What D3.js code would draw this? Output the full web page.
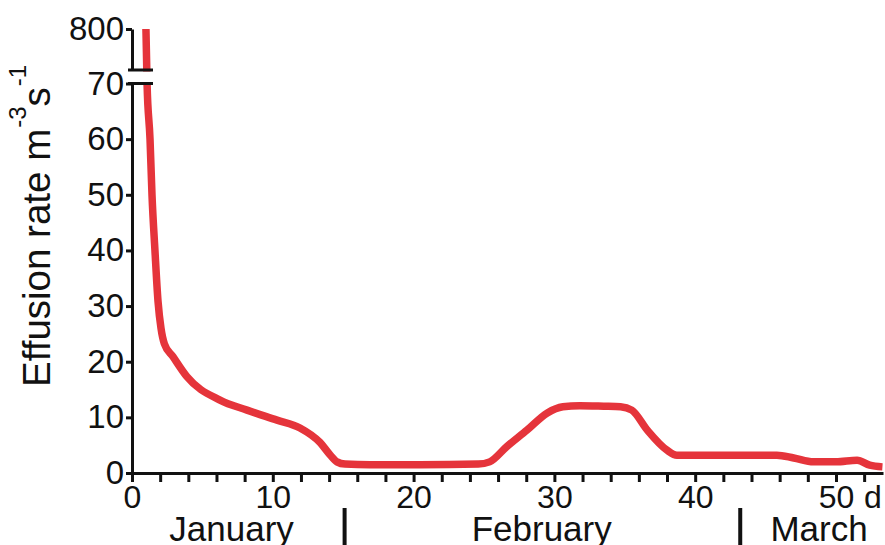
<!DOCTYPE html>
<html>
<head>
<meta charset="utf-8">
<script src="https://cdn.jsdelivr.net/npm/d3@7"></script>
<style>
  body { margin: 0; background: #fff; }
  svg { display: block; font-family: "Liberation Sans", Arial, sans-serif; }
</style>
</head>
<body>
<svg id="chart" width="885" height="545"></svg>
<script>
// Effusion rate over time (days since onset)
const days = [0.99, 1.07, 1.28, 1.42, 1.63, 1.85, 2.06, 2.3, 2.91, 3.9, 6.25, 8.17, 10.3, 11.93, 13.35, 14.06, 14.56, 15.13, 16.9, 20.45, 24.6, 25.4, 26.6, 28.05, 29.5, 30.6, 31.8, 33.5, 34.7, 35.5, 36.6, 38.0, 38.7, 40.3, 45.8, 47.0, 48.4, 50.0, 51.5, 52.4, 53.3];
const rates = [800, 70, 60, 50, 40, 30.8, 26.0, 23.2, 20.9, 17.3, 13.1, 11.3, 9.5, 8.1, 5.5, 3.3, 2.0, 1.6, 1.5, 1.5, 1.6, 2.0, 4.7, 7.7, 10.8, 11.9, 12.1, 12.0, 11.9, 11.3, 7.7, 4.1, 3.2, 3.2, 3.2, 2.7, 2.0, 2.0, 2.3, 1.4, 1.1];

const xTicks = d3.range(0, 53, 2);
const xLabelled = [0, 10, 20, 30, 40, 50];
const yTicksLow = [0, 10, 20, 30, 40, 50, 60, 70];
const yTicksHigh = [800];
const months = ["January", "February", "March"];
const monthCentres = [7.07, 29.1, 48.8];
const monthBreaks = [15.1, 43.2];

const svg = d3.select("#chart");
const red = "#e5343b";
const ink = "#111";

const x = d3.scaleLinear().domain([0, 53.34]).range([132, 883]);
const yLow = d3.scaleLinear().domain([0, 70]).range([473, 83.5]);
const yHigh = d3.scaleLinear().domain([700, 800]).range([70, 29]);
const y = v => (v <= 70 ? yLow(v) : yHigh(v));

const styleAxis = size => g => {
  g.selectAll("path, line").attr("stroke", ink).attr("stroke-width", 3);
  g.selectAll("text").attr("fill", ink).attr("font-size", size)
    .attr("font-family", "'Liberation Sans', Arial, sans-serif");
};

// x axis
svg.append("g")
  .attr("transform", `translate(0,${yLow(0)})`)
  .call(d3.axisBottom(x).tickValues(xTicks).tickSize(9).tickSizeOuter(0).tickPadding(3)
    .tickFormat(d => xLabelled.includes(d) ? d : ""))
  .call(styleAxis(32));

svg.append("text")
  .attr("x", 864).attr("y", 508)
  .attr("font-size", 32).attr("fill", ink)
  .text("d");

// lower y axis
svg.append("g")
  .attr("transform", `translate(${x(0)},0)`)
  .call(d3.axisLeft(yLow).tickValues(yTicksLow).tickSize(6).tickSizeOuter(0).tickPadding(2))
  .call(styleAxis(33));

// upper y axis (above the break)
svg.append("g")
  .attr("transform", `translate(${x(0)},0)`)
  .call(d3.axisLeft(yHigh).tickValues(yTicksHigh).tickSize(6).tickSizeOuter(0).tickPadding(2))
  .call(styleAxis(33));

// rate curve
const line = d3.line()
  .x((d, i) => x(days[i]))
  .y(d => y(d))
  .curve(d3.curveMonotoneX);

svg.append("path")
  .datum(rates)
  .attr("d", line)
  .attr("fill", "none")
  .attr("stroke", red)
  .attr("stroke-width", 7.5)
  .attr("stroke-linejoin", "round");

// axis break
const breakTop = yHigh(700), breakBottom = yLow(70);
svg.append("rect")
  .attr("x", x(0) - 8).attr("width", 30)
  .attr("y", breakTop + 1.5).attr("height", breakBottom - breakTop - 3)
  .attr("fill", "#fff");
[breakTop, breakBottom].forEach(v => {
  svg.append("line")
    .attr("x1", x(0) - 4).attr("x2", x(0) + 21)
    .attr("y1", v).attr("y2", v)
    .attr("stroke", ink).attr("stroke-width", 3);
});

// y axis title
const title = svg.append("text")
  .attr("transform", "translate(50,387) rotate(-90)")
  .attr("font-size", 38.5).attr("fill", ink);
title.append("tspan").text("Effusion rate m");
title.append("tspan").attr("font-size", 24).attr("dy", -24).attr("dx", 1).text("-3");
title.append("tspan").attr("font-size", 38.5).attr("dy", 24).text("s");
title.append("tspan").attr("font-size", 24).attr("dy", -24).attr("dx", 1).text("-1");

// month labels and separators
svg.selectAll(".month")
  .data(months)
  .join("text")
  .attr("class", "month")
  .attr("x", (d, i) => x(monthCentres[i]))
  .attr("y", 541)
  .attr("text-anchor", "middle")
  .attr("font-size", 35).attr("fill", ink)
  .text(d => d);

svg.selectAll(".sep")
  .data(monthBreaks)
  .join("line")
  .attr("class", "sep")
  .attr("x1", d => x(d)).attr("x2", d => x(d))
  .attr("y1", 508).attr("y2", 545)
  .attr("stroke", ink).attr("stroke-width", 4);
</script>
</body>
</html>
